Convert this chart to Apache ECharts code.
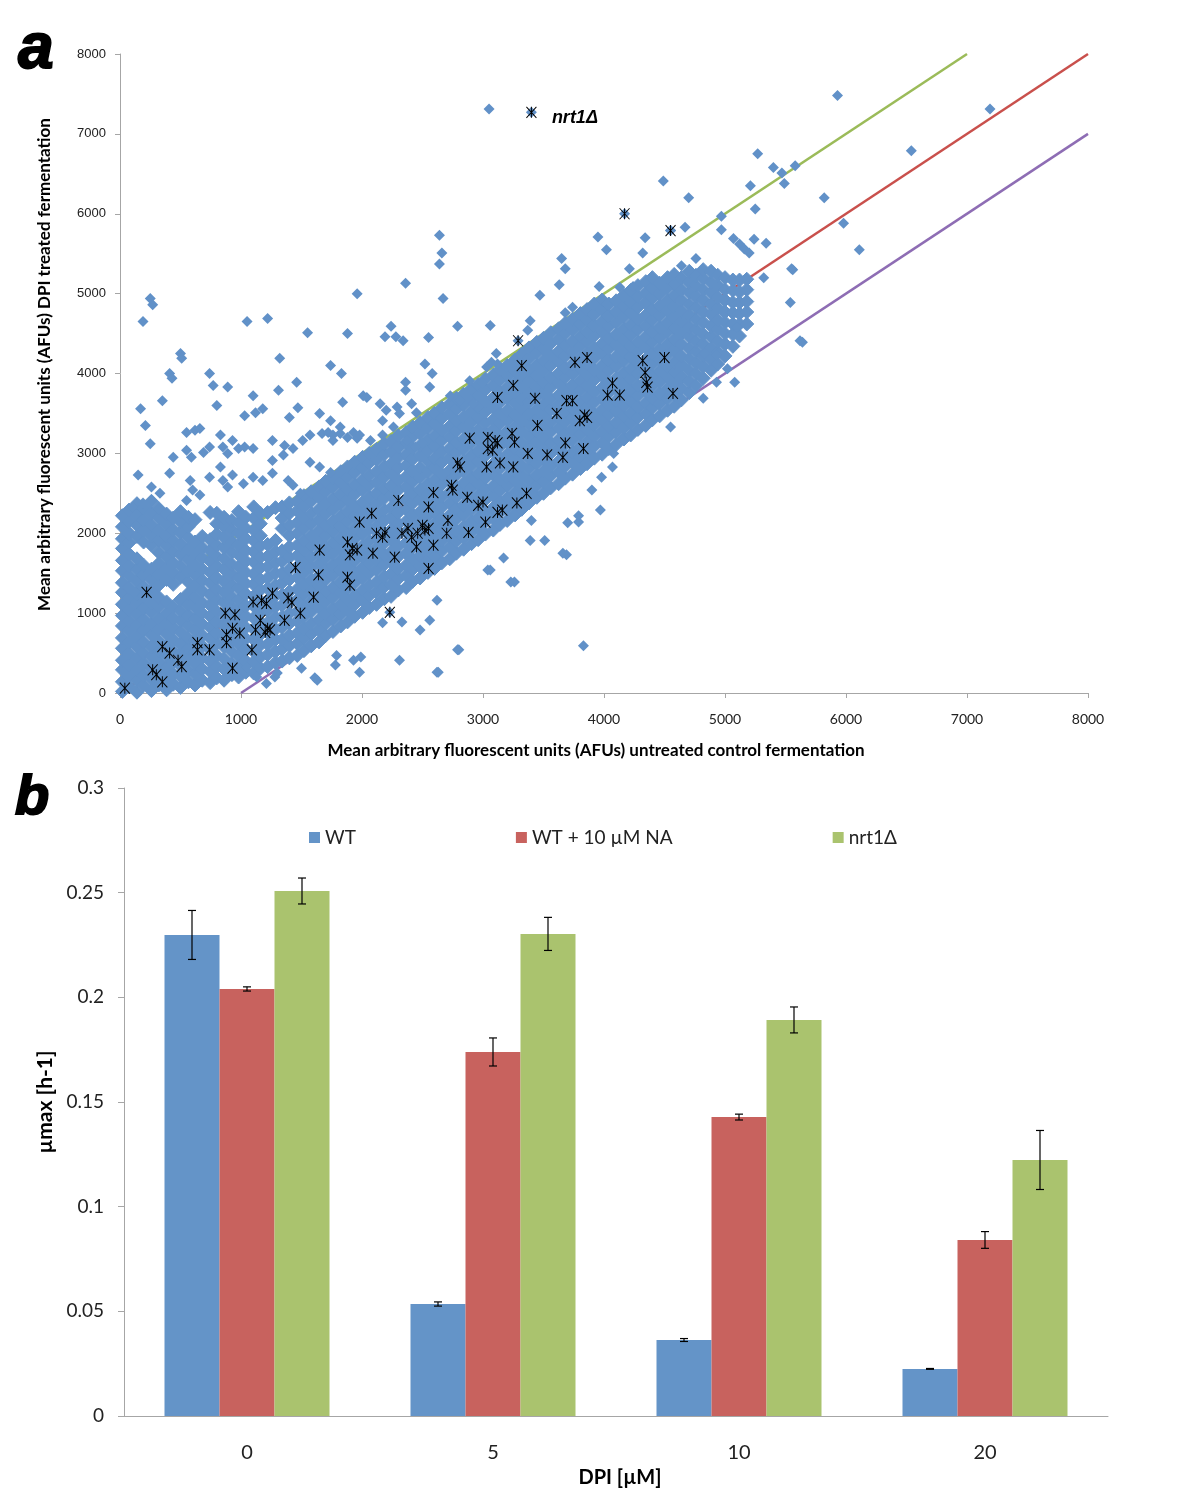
<!DOCTYPE html>
<html>
<head>
<meta charset="utf-8">
<script src="https://cdn.jsdelivr.net/npm/echarts@6/dist/echarts.min.js"></script>
<style>html,body{margin:0;padding:0;background:#fff;}#c{width:1200px;height:1508px;}</style>
</head>
<body>
<div id="c"></div>
<script>
// ---------- Panel a data (AFUs) ----------
const axisTicksA = [0,1000,2000,3000,4000,5000,6000,7000,8000];
// dense core of the scatter, read column by column: x positions and the y values in each column
const coreX = [20,75,140,195,260,320,385,440,500,565,620,680,745,800,860,925,980,1040,1105,1160,1220,1285,1340,1400,1465,1520,1580,1645,1700,1760,1825,1880,1940,2005,2060,2120,2185,2240,2300,2365,2420,2480,2545,2600,2660,2725,2780,2840,2905,2960,3020,3085,3140,3200,3265,3320,3380,3445,3500,3560,3625,3680,3740,3805,3860,3920,3985,4040,4100,4165,4220,4280,4345,4400,4460,4525,4580,4640,4705,4760,4820,4885,4940,5000,5065,5120,5180];
const coreY = [
[20,140,290,410,560,690,840,970,1110,1260,1380,1530,1660,1810,1930,2080,2220],
[80,210,350,490,630,780,900,1050,1180,1320,1470,1590,1740,1880,2000,2150,2290],
[10,160,280,430,580,700,850,990,1130,1250,1400,1550,1680,1960,2100,2230,2370],
[100,220,370,500,640,790,920,1060,1210,1330,1480,1600,1890,2040,2170,2320],
[30,180,300,450,580,730,860,1010,1130,1280,1420,1550,1850,1970,2100,2250,2400],
[100,250,380,520,650,800,930,1080,1200,1350,1490,1620,1760,1910,2040,2190,2310],
[40,190,310,460,590,740,870,1000,1140,1420,1560,1700,1840,1970,2120,2240],
[110,240,390,530,660,810,940,1080,1360,1500,1630,1770,1910,2040,2190],
[70,210,340,490,620,760,900,1030,1170,1450,1590,1730,1860,2010,2140,2270],
[140,280,420,560,690,840,970,1110,1250,1390,1520,1670,1800,1940,2080,2200],
[100,240,370,510,660,790,930,1070,1200,1340,1490,1610,1760,1890,2170],
[160,300,440,590,720,860,1000,1130,1280,1410,1550,1690,1820,1960],
[130,270,400,540,690,820,960,1100,1230,1380,1510,1650,1780,1920,2260],
[190,330,470,620,750,890,1020,1170,1300,1440,1580,1710,1850,1990,2120,2250],
[160,300,430,580,710,850,990,1130,1260,1400,1550,1680,1820,1950,2090,2200],
[230,370,520,650,790,920,1070,1200,1340,1480,1610,1760,1890,2030,2160],
[200,340,470,620,750,890,1040,1160,1310,1440,1580,1730,1850,2000,2130,2270],
[260,400,550,680,820,960,1090,1240,1370,1510,1650,1780,1930,2060,2200],
[250,390,520,670,800,940,1090,1210,1360,1490,1640,1770,1910,2040,2190,2330],
[310,450,600,730,870,1020,1140,1290,1420,1570,1700,1840,1970,2120,2250],
[330,480,610,760,880,1030,1160,1310,1440,1580,1710,1860,2260],
[380,520,670,800,950,1080,1220,1350,1500,1630,1770,1910,2320],
[400,550,670,820,950,1100,1230,1380,1500,1650,1780,2060,2190,2330],
[440,590,720,870,1000,1150,1270,1420,1550,1700,1830,1970,2100,2250,2380],
[470,620,750,900,1020,1170,1300,1450,1580,1720,1850,2000,2130,2280,2400],
[530,680,810,960,1080,1230,1360,1510,1640,1780,1910,2060,2190,2340,2470],
[590,740,870,1020,1140,1290,1420,1570,1700,1840,1970,2120,2250,2400,2520],
[640,790,920,1070,1200,1350,1470,1620,1750,1900,2030,2170,2300,2450,2580],
[720,870,990,1140,1270,1420,1550,1690,1820,1970,2100,2250,2370,2520,2650],
[770,920,1050,1200,1320,1470,1600,1750,1880,2020,2150,2300,2430,2580,2700],
[840,990,1110,1260,1390,1540,1670,1810,1940,2090,2220,2370,2490,2640,2770],
[890,1040,1170,1320,1450,1590,1720,1870,2000,2150,2270,2420,2550,2700,2830],
[960,1110,1230,1380,1510,1660,1790,1930,2060,2210,2340,2490,2610,2760,2890],
[1010,1160,1290,1440,1570,1710,1840,1990,2120,2270,2390,2540,2670,2820,2950],
[1070,1220,1350,1500,1620,1770,1900,2050,2180,2320,2450,2600,2730,2880,3000],
[1110,1260,1390,1540,1670,1810,1940,2090,2220,2370,2500,2640,2770,2920,3050],
[1180,1330,1460,1610,1730,1880,2010,2160,2290,2440,2560,2710,2840,2990,3120],
[1210,1360,1490,1640,1770,1920,2040,2190,2320,2470,2600,2750,2870,3020,3150],
[1290,1430,1560,1710,1840,1990,2120,2260,2390,2540,2670,2820,2950,3090,3220],
[1320,1470,1600,1750,1880,2020,2150,2300,2430,2580,2710,2850,2980,3130,3260],
[1400,1550,1670,1820,1950,2100,2230,2380,2500,2650,2780,2930,3060,3210,3330],
[1440,1590,1720,1870,1990,2140,2270,2420,2550,2700,2820,2970,3100,3250,3380],
[1510,1660,1790,1940,2070,2210,2340,2490,2620,2770,2900,3040,3170,3320,3450],
[1560,1710,1840,1990,2110,2260,2390,2540,2670,2820,2940,3090,3220,3370,3500],
[1630,1780,1910,2060,2190,2330,2460,2610,2740,2890,3020,3160,3290,3440,3570],
[1680,1830,1960,2110,2230,2380,2510,2660,2790,2940,3060,3210,3340,3490,3620],
[1750,1900,2030,2180,2310,2450,2580,2730,2860,3010,3140,3280,3410,3560,3690],
[1800,1950,2080,2230,2350,2500,2630,2780,2910,3060,3180,3330,3460,3610,3740],
[1870,2020,2150,2300,2430,2570,2700,2850,2980,3130,3260,3400,3530,3680,3810],
[1920,2070,2200,2350,2470,2620,2750,2900,3030,3180,3300,3450,3580,3730,3860],
[1990,2140,2270,2420,2550,2690,2820,2970,3100,3250,3380,3520,3650,3800,3930],
[2040,2190,2320,2470,2590,2740,2870,3020,3150,3300,3420,3570,3700,3850,3980],
[2110,2260,2390,2540,2670,2810,2940,3090,3220,3370,3500,3640,3770,3920,4050],
[2160,2310,2440,2590,2710,2860,2990,3140,3270,3420,3540,3690,3820,3970,4100],
[2230,2380,2510,2660,2790,2930,3060,3210,3340,3490,3620,3760,3890,4040,4170],
[2300,2450,2580,2730,2850,3000,3130,3280,3410,3560,3680,3830,3960,4110,4240],
[2380,2530,2660,2810,2940,3080,3210,3360,3490,3640,3760,3910,4040,4190,4320],
[2450,2600,2730,2880,3000,3150,3280,3430,3560,3710,3830,3980,4110,4260,4390],
[2500,2650,2780,2930,3060,3200,3330,3480,3610,3760,3890,4030,4160,4310,4440],
[2570,2720,2850,3000,3130,3270,3400,3550,3680,3830,3950,4100,4230,4380,4510],
[2620,2770,2900,3050,3170,3320,3450,3600,3730,3880,4000,4150,4280,4430,4560],
[2690,2840,2970,3120,3250,3390,3520,3670,3800,3950,4070,4220,4350,4500,4630],
[2740,2890,3020,3170,3300,3440,3570,3720,3850,4000,4120,4270,4400,4550,4680],
[2810,2960,3090,3240,3370,3510,3640,3790,3920,4070,4190,4340,4470,4620,4750],
[2870,3020,3150,3300,3420,3570,3700,3850,3980,4120,4250,4400,4530,4680,4800],
[2940,3090,3220,3360,3490,3640,3770,3920,4040,4190,4320,4470,4600,4740,4870],
[2990,3140,3270,3420,3550,3690,3820,3970,4100,4250,4370,4520,4650,4800,4920],
[3060,3210,3340,3490,3610,3760,3890,4040,4170,4310,4440,4590,4720,4870],
[3110,3260,3390,3530,3660,3810,3940,4090,4210,4360,4490,4640,4770,4910],
[3180,3330,3460,3600,3730,3880,4010,4160,4280,4430,4560,4710,4840,4980],
[3230,3380,3510,3660,3790,3930,4060,4210,4340,4490,4610,4760,4890,5040],
[3300,3450,3580,3720,3850,4000,4130,4280,4400,4550,4680,4830,4960,5100],
[3350,3500,3630,3780,3900,4050,4180,4330,4460,4600,4730,4880,5010,5150],
[3420,3570,3690,3840,3970,4120,4250,4390,4520,4670,4800,4950,5070,5200],
[3470,3620,3750,3900,4030,4170,4300,4450,4580,4730,4850,5000,5130],
[3540,3690,3820,3960,4090,4240,4370,4520,4640,4790,4920,5070,5200],
[3590,3740,3870,4020,4140,4290,4420,4570,4700,4840,4970,5120,5240],
[3670,3820,3950,4100,4220,4370,4500,4650,4780,4920,5050,5200],
[3760,3900,4030,4180,4310,4460,4580,4730,4860,5010,5140,5280],
[3850,4000,4130,4280,4400,4550,4680,4830,4960,5100,5230],
[3940,4090,4220,4370,4490,4640,4770,4920,5050,5190,5300],
[4040,4180,4310,4460,4590,4740,4860,5010,5140,5280],
[4120,4270,4400,4550,4670,4820,4950,5100,5230],
[4220,4370,4500,4640,4770,4920,5050,5200],
[4340,4490,4620,4760,4890,5040,5170],
[4470,4620,4750,4890,5020,5170],
[4620,4770,4900,5050,5180]
];
// scattered genes outside the dense core
const scatterPts = [
[3050,7310],[5930,7480],[7190,7310],[6540,6790],[5270,6750],[5400,6580],[5470,6510],[5580,6600],[5490,6380],[4490,6410],[5210,6350],[4700,6200],[5820,6200],[5250,6060],[4970,5970],[4550,5790],[4670,5830],[3950,5710],[4340,5700],[4970,5800],[5070,5690],[5120,5620],[5160,5560],[5200,5510],[5240,5680],[5340,5630],[5980,5880],[6110,5550],[4020,5550],[4320,5510],[3650,5440],[3680,5310],[4210,5310],[4640,5350],[4760,5440],[5560,5300],[3630,5110],[3960,5090],[3470,4980],[4130,5080],[4240,5090],[5320,5200],[5540,4890],[3060,4600],[3390,4660],[3370,4540],[3680,4760],[3740,4830],
[2640,5730],[2660,5510],[2640,5370],[2360,5130],[1960,5000],[2670,4940],[250,4940],[270,4860],[190,4650],[1050,4650],[1220,4690],[1550,4510],[1880,4500],[2240,4590],[2790,4590],[2190,4460],[2280,4460],[2340,4410],[2550,4450],
[500,4250],[510,4190],[1320,4190],[1740,4100],[1830,4000],[2520,4120],[2580,4000],[410,4000],[430,3940],[740,4000],[770,3850],[890,3830],[1100,3720],[1310,3790],[1180,3560],[1460,3890],[1470,3570],[1400,3450],[2010,3720],[1840,3640],[2360,3890],[2360,3790],[2560,3830],[350,3660],[170,3560],[210,3350],[250,3120],[550,3260],[620,3290],[660,3310],[800,3600],[1030,3470],[1120,3510],[740,3080],[830,3230],[850,3080],[930,3160],[890,3000],[980,3060],[440,2950],[410,2750],[150,2730],[550,3040],[590,2950],[690,3010],[1030,3080],[1100,3060],[1260,3160],[1360,3100],[1430,3060],[1510,3160],[1570,3230],[1670,3250],[1720,3260],[1760,3230],[1820,3250],[1880,3200],[1960,3190],[1980,3230],[2070,3160],[2170,3230],[2310,3060],[2370,3160],[2440,3080],[2500,3130],[1570,2890],[1650,2830],[1740,2760],[1260,2750],[1180,2660],[1100,2700],[1020,2620],[1390,2660],[1430,2600],[1490,2500],[830,2830],[740,2700],[850,2660],[890,2580],[930,2730],[580,2660],[600,2540],[660,2480],[550,2410],[260,2580],[330,2500],[190,2380],[110,2330],[1350,2980],[1260,2910],
[2890,3910],[3030,4080],[3070,4140],[2730,3720],[2810,3660],[2920,3620],[2990,3880],[3110,4250],[3120,4120],[2040,3700],[2150,3620],[2200,3540],[2290,3580],[2410,3620],[2450,3510],[1650,3500],[1740,3410],[1820,3330],[1930,3260],[1760,3160],[2170,3410],[2260,3330],[2310,3500],
[5020,4060],[4930,3890],[5080,3890],[4820,3690],[5640,4390],[4550,3330],[4930,4230],[4830,4250],[5100,4580],[5550,5310],[5620,4410],
[3830,590],[3230,1390],[3690,1730],[2800,540],[2620,260],[2310,410],[1990,450],[1610,190],[1280,200],[2480,790],[1780,350],[3970,2290],[3790,2140],[3510,1910],[3060,1540],[2560,910],[3900,2540],[3980,2700],[3790,2220],[3700,2130],[3660,1750],[3400,2160],[3390,1910],[3260,1390],[3040,1540],[3170,1690],[4070,2830],[4080,3000],
[1790,470],[1930,410],[1980,260],[1500,310],[1630,160],[1300,250],[2630,260],[2790,540],[2330,890],[2170,880],[2620,1160],[1050,330],[1130,200],[1210,120]
];
// genes marked with an asterisk
const markedPts = [
[3400,7270],[4170,6000],[4550,5790],
[220,1260],[40,60],[270,290],[300,230],[350,140],[350,580],[410,500],[480,410],[510,330],[640,630],[640,540],[740,540],[870,1000],[950,980],[880,730],[880,630],[930,810],[990,750],[930,310],[1090,540],[1100,1140],[1170,1160],[1210,1120],[1160,910],[1220,810],[1240,790],[1200,760],[1120,790],[1260,1250],[1360,910],[1390,1190],[1420,1130],[1490,1000],[1600,1200],[1450,1570],[1640,1480],[1650,1790],[1880,1450],[1900,1350],[1880,1890],[1920,1810],[1900,1730],[1960,1790],[1980,2140],[2080,2250],[2090,1750],[2120,2000],[2190,2010],[2170,1950],[2300,2410],[2270,1700],[2330,2000],[2380,2060],[2410,1950],[2460,2000],[2500,2100],[2520,2040],[2550,2060],[2450,1830],[2550,1560],[2550,2330],[2590,2510],[2590,1850],[2700,2000],[2710,2160],[2750,2540],[2740,2600],[2790,2880],[2810,2830],[2870,2450],[2880,2010],[2890,3190],[2960,2350],[3020,2140],[3040,3200],[3040,3060],[3030,2830],[3100,3160],[3120,3130],[3080,3040],[3120,3700],[3120,2260],[2230,1010],
[3290,4410],[3320,4100],[3250,3850],[3430,3690],[3760,4140],[3860,4200],[3610,3500],[3690,3660],[3740,3660],[3450,3350],[3800,3410],[3840,3480],[3860,3450],[4070,3880],[4030,3730],[4130,3730],[4320,4160],[4340,4010],[4350,3890],[4360,3830],[4500,4200],[4570,3750],[3240,3250],[3260,3140],[3140,2880],[3250,2830],[3370,3000],[3530,2980],[3660,2950],[3680,3130],[3830,3060],[3360,2500],[3280,2380],[3160,2290],[3000,2390]
];
const labelledGene = 'nrt1Δ';
// reference lines (drawn beneath the points)
const lineGreen = [[660,1660],[7000,8000]];
const lineRed = [[0,0],[8000,8000]];
const linePurple = [[1000,0],[8000,7000]];

// ---------- Panel b data ----------
const dpiCats = ['0','5','10','20'];
const wtVals = [0.2298,0.0535,0.0363,0.0225];
const wtErr = [0.0117,0.0010,0.0007,0.0002];
const naVals = [0.2040,0.1739,0.1428,0.0841];
const naErr = [0.0010,0.0067,0.0014,0.0040];
const nrtVals = [0.2508,0.2303,0.1892,0.1223];
const nrtErr = [0.0062,0.0079,0.0062,0.0141];
const seriesNames = ['WT','WT + 10 µM NA','nrt1Δ'];

// ---------- build ----------
const corePts = [];
coreX.forEach((x, i) => coreY[i].forEach(y => corePts.push([x, y])));
const outerPts = scatterPts.concat(markedPts);
const starData = markedPts.map((p, i) => i === 0 ? {
  value: p,
  label: {show: true, formatter: labelledGene, position: 'right', distance: 15, offset: [0, 6],
    fontStyle: 'italic', fontWeight: 'bold', fontSize: 18, color: '#000', fontFamily: 'Liberation Sans'}
} : p);

const blueCol = '#6191C8';
const axisGray = '#A6A6A6';
const calibri = 'Lato';
const plain = v => String(v);

function errSeries(vals, errs, offset) {
  return {
    type: 'custom', xAxisIndex: 1, yAxisIndex: 1, z: 10, silent: true,
    data: vals.map((v, i) => [i, v - errs[i], v + errs[i]]),
    encode: {x: 0, y: [1, 2]},
    renderItem: function (params, api) {
      const lo = api.coord([api.value(0), api.value(1)]);
      const hi = api.coord([api.value(0), api.value(2)]);
      const x = lo[0] + offset, cw = 4;
      const st = {stroke: '#000', lineWidth: 1.2};
      return {type: 'group', children: [
        {type: 'line', shape: {x1: x, y1: lo[1], x2: x, y2: hi[1]}, style: st},
        {type: 'line', shape: {x1: x - cw, y1: hi[1], x2: x + cw, y2: hi[1]}, style: st},
        {type: 'line', shape: {x1: x - cw, y1: lo[1], x2: x + cw, y2: lo[1]}, style: st}
      ]};
    }
  };
}

const chart = echarts.init(document.getElementById('c'), null, {renderer: 'canvas'});
chart.setOption({
  animation: false,
  backgroundColor: '#fff',
  graphic: [
    {type: 'text', left: 17, top: 17, style: {text: 'a', font: 'italic bold 64px "Liberation Sans"', fill: '#000', stroke: '#000', lineWidth: 2}},
    {type: 'text', left: 14, top: 770, style: {text: 'b', font: 'italic bold 56px "Liberation Sans"', fill: '#000', stroke: '#000', lineWidth: 2}}
  ],
  grid: [
    {left: 120, top: 54, width: 968, height: 639},
    {left: 124, top: 788, width: 984, height: 628}
  ],
  legend: {
    data: seriesNames, left: 309, top: 828, itemGap: 160, itemWidth: 11, itemHeight: 11, padding: 0,
    icon: 'rect', textStyle: {fontSize: 19, color: '#222', fontFamily: calibri}
  },
  xAxis: [
    {gridIndex: 0, type: 'value', min: 0, max: 8000, interval: 1000,
      axisLine: {lineStyle: {color: axisGray, width: 1}}, axisTick: {length: 5, lineStyle: {color: axisGray}},
      splitLine: {show: false},
      axisLabel: {margin: 19, fontSize: 14, color: '#222', fontFamily: calibri, formatter: plain},
      name: 'Mean arbitrary fluorescent units (AFUs) untreated control fermentation',
      nameLocation: 'middle', nameGap: 49,
      nameTextStyle: {fontWeight: 'bold', fontSize: 17, color: '#000', fontFamily: calibri, padding: [0, 16, 0, 0]}},
    {gridIndex: 1, type: 'category', data: dpiCats,
      axisLine: {lineStyle: {color: axisGray, width: 1}}, axisTick: {length: 6, lineStyle: {color: axisGray}},
      axisLabel: {margin: 27, fontSize: 20, color: '#222', fontFamily: calibri},
      name: 'DPI [µM]', nameLocation: 'middle', nameGap: 52,
      nameTextStyle: {fontWeight: 'bold', fontSize: 20, color: '#000', fontFamily: calibri, padding: [0, 0, 0, 8]}}
  ],
  yAxis: [
    {gridIndex: 0, type: 'value', min: 0, max: 8000, interval: 1000,
      axisLine: {show: true, lineStyle: {color: axisGray, width: 1}}, axisTick: {show: true, length: 5, lineStyle: {color: axisGray}},
      splitLine: {show: false},
      axisLabel: {margin: 14, fontSize: 13, color: '#222', fontFamily: 'Liberation Sans', formatter: plain},
      name: 'Mean arbitrary fluorescent units (AFUs) DPI treated fermentation',
      nameLocation: 'middle', nameGap: 67,
      nameTextStyle: {fontWeight: 'bold', fontSize: 17, color: '#000', fontFamily: calibri, padding: [0, 0, 0, 18]}},
    {gridIndex: 1, type: 'value', min: 0, max: 0.3, interval: 0.05,
      axisLine: {show: true, lineStyle: {color: axisGray, width: 1}}, axisTick: {show: true, length: 6, lineStyle: {color: axisGray}},
      splitLine: {show: false},
      axisLabel: {margin: 20, fontSize: 19, color: '#222', fontFamily: calibri},
      name: 'µmax [h-1]', nameLocation: 'middle', nameGap: 62,
      nameTextStyle: {fontWeight: 'bold', fontSize: 21, color: '#000', fontFamily: calibri}}
  ],
  series: [
    {type: 'line', xAxisIndex: 0, yAxisIndex: 0, data: lineRed, symbol: 'none', silent: true, z: 1,
      lineStyle: {color: '#C9504C', width: 2.5}},
    {type: 'line', xAxisIndex: 0, yAxisIndex: 0, data: lineGreen, symbol: 'none', silent: true, z: 1,
      lineStyle: {color: '#9BBB59', width: 2.5}},
    {type: 'line', xAxisIndex: 0, yAxisIndex: 0, data: linePurple, symbol: 'none', silent: true, z: 1,
      lineStyle: {color: '#8E6DB4', width: 2.5}},
    {type: 'scatter', xAxisIndex: 0, yAxisIndex: 0, data: corePts, symbol: 'diamond', symbolSize: 14,
      itemStyle: {color: blueCol, opacity: 1, borderColor: blueCol, borderWidth: 1}, z: 2, progressive: 0, silent: true},
    {type: 'scatter', xAxisIndex: 0, yAxisIndex: 0, data: outerPts, symbol: 'diamond', symbolSize: 11,
      itemStyle: {color: blueCol, opacity: 1}, z: 2, progressive: 0, silent: true},
    {type: 'scatter', xAxisIndex: 0, yAxisIndex: 0, data: starData,
      symbol: 'path://M0,0L10,10M10,0L0,10M5,0L5,10', symbolSize: [10, 11],
      itemStyle: {color: 'rgba(0,0,0,0)', borderColor: '#000', borderWidth: 1, opacity: 1}, z: 3, progressive: 0, silent: true},
    {name: seriesNames[0], type: 'bar', xAxisIndex: 1, yAxisIndex: 1, data: wtVals, barWidth: 55, barGap: '0%',
      itemStyle: {color: '#6494C8'}},
    {name: seriesNames[1], type: 'bar', xAxisIndex: 1, yAxisIndex: 1, data: naVals, barWidth: 55, barGap: '0%',
      itemStyle: {color: '#C8625E'}},
    {name: seriesNames[2], type: 'bar', xAxisIndex: 1, yAxisIndex: 1, data: nrtVals, barWidth: 55, barGap: '0%',
      itemStyle: {color: '#AAC36E'}},
    errSeries(wtVals, wtErr, -55),
    errSeries(naVals, naErr, 0),
    errSeries(nrtVals, nrtErr, 55)
  ]
});
</script>
</body>
</html>
